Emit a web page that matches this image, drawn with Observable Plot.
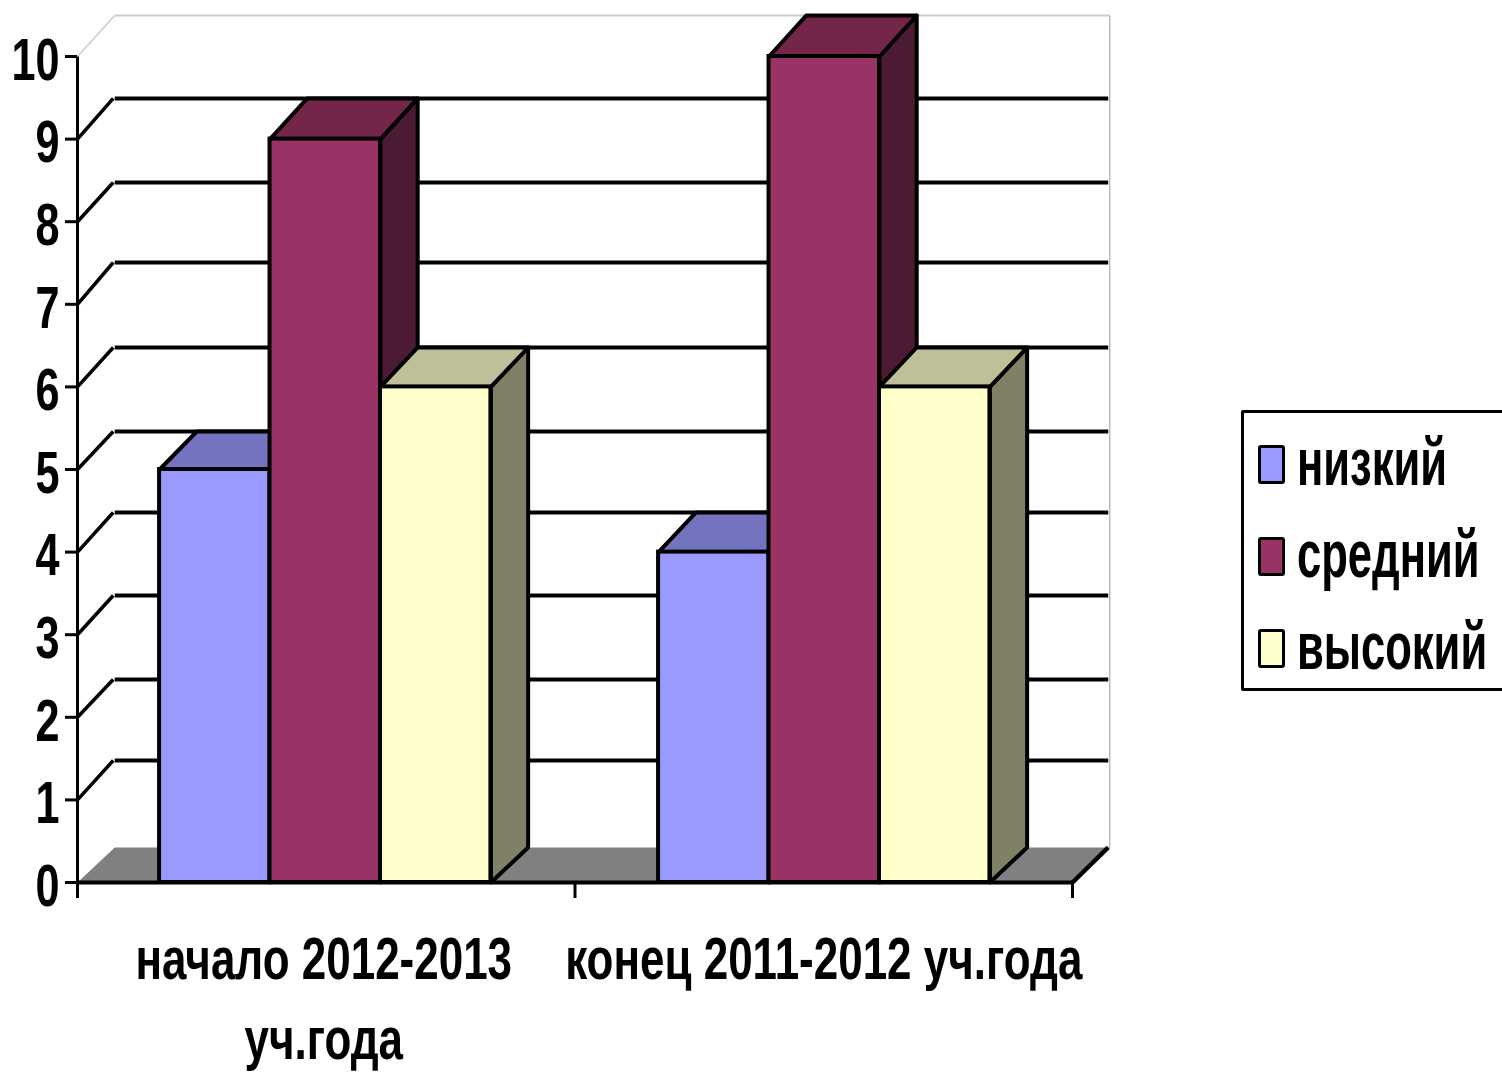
<!DOCTYPE html>
<html><head><meta charset="utf-8">
<script src="https://cdn.jsdelivr.net/npm/d3@7"></script>
<script src="https://cdn.jsdelivr.net/npm/@observablehq/plot@0.6"></script>
<style>
html,body{margin:0;padding:0;background:#fff;overflow:hidden}
#wrap{position:relative;width:1502px;height:1073px}
#legend{position:absolute;left:1241px;top:410px;width:263px;height:275px;border:3.5px solid #000;border-radius:2px;background:#fff}
.row{position:absolute;left:14px;display:flex;align-items:center;height:60px;font:bold 66px "Liberation Sans",sans-serif;color:#000;white-space:nowrap}
.sw{width:21px;height:33px;border:3px solid #000;border-radius:3px;margin-right:12px;flex:none}
.lab{display:inline-block;transform:translateY(-2px) scaleX(0.66);transform-origin:left center}
</style></head><body><div id="wrap"><div id="legend"></div></div>
<script>
const categories = ["начало 2012-2013\nуч.года", "конец 2011-2012 уч.года"];
const series = ["низкий", "средний", "высокий"];
const low = [5, 4];
const mid = [9, 10];
const high = [6, 6];
const frontColors = ["#9999FF", "#993366", "#FFFFCC"];
const topColors = ["#7373BF", "#732649", "#BFBF99"];
const sideColors = ["#4D4D80", "#4D1A33", "#808066"];
const ticks = [0,1,2,3,4,5,6,7,8,9,10];
const groupEdges = [0, 1, 2];
const labelCentres = [0.495, 1.5];
const barStart = [0.165, 1.168];
const barWidth = 0.222;
const depthX = 0.0748;
// where each value lands on the back wall, in value units (the perspective of the 3D frame)
const backPlane = [0.424, 1.477, 2.458, 3.475, 4.479, 5.46, 6.477, 7.506, 8.475, 9.492, 10.496];
const back = v => backPlane[v];
const font = '"Liberation Sans",sans-serif';

const values = [low, mid, high];
const bars = [];
categories.forEach((c, g) => series.forEach((s, i) => {
  const x0 = barStart[g] + i * barWidth;
  bars.push({id: `${g}-${i}`, i, g, x1: x0, x2: x0 + barWidth, v: values[i][g]});
}));

function poly(id, fill, pts){ return pts.map(([x,y]) => ({id, fill, x, y})); }
const floor = poly("floor", "#808080", [[0,0],[depthX,back(0)],[2+depthX,back(0)],[2,0]]);
const gridTicks = ticks.filter(t => t > 0 && t < 10);

const faceMark = pts => Plot.line(pts, {x:"x", y:"y", z:"id", fill:"fill", stroke:"#000", strokeWidth:4, curve:"linear-closed", strokeLinejoin:"round"});

const barMarks = bars.flatMap(b => {
  const bk = back(b.v);
  return [
    faceMark(poly(b.id+"s", sideColors[b.i], [[b.x2,0],[b.x2+depthX,back(0)],[b.x2+depthX,bk],[b.x2,b.v]])),
    faceMark(poly(b.id+"t", topColors[b.i], [[b.x1,b.v],[b.x1+depthX,bk],[b.x2+depthX,bk],[b.x2,b.v]])),
    Plot.rect([b], {x1:"x1", x2:"x2", y1:()=>0, y2:"v", fill:frontColors[b.i], stroke:"#000", strokeWidth:4})
  ];
});

const chart = Plot.plot({
  width:1502, height:1073,
  marginLeft:77, marginRight:430, marginTop:56, marginBottom:191,
  x:{domain:[0,2], axis:null},
  y:{domain:[0,10], axis:null},
  color:{type:"identity"},
  marks:[
    // wall outline
    Plot.link([0], {x1:()=>0, y1:()=>10, x2:()=>depthX, y2:()=>back(10), stroke:"#ccc", strokeWidth:1.5}),
    Plot.link([0], {x1:()=>depthX, y1:()=>back(10), x2:()=>2+depthX, y2:()=>back(10), stroke:"#ccc", strokeWidth:2}),
    Plot.link([0], {x1:()=>2+depthX, y1:()=>back(10), x2:()=>2+depthX, y2:()=>back(0), stroke:"#bbb", strokeWidth:1.5}),
    // floor
    Plot.line(floor, {x:"x", y:"y", z:"id", fill:"fill", curve:"linear-closed"}),
    Plot.link([0], {x1:()=>2, y1:()=>0, x2:()=>2+depthX*0.96, y2:()=>back(0), stroke:"#000", strokeWidth:4.5}),
    // grid lines on side and back walls
    Plot.link(gridTicks, {x1:()=>0, y1:d=>d, x2:()=>depthX*0.96, y2:d=>back(d), stroke:"#000", strokeWidth:3.5}),
    Plot.link(gridTicks, {x1:()=>depthX, y1:d=>back(d), x2:()=>2+depthX*0.96, y2:d=>back(d), stroke:"#000", strokeWidth:4}),
    ...barMarks,
    // axes
    Plot.link([0], {x1:()=>0, y1:()=>0, x2:()=>0, y2:()=>10, stroke:"#000", strokeWidth:3}),
    Plot.link([0], {x1:()=>0, y1:()=>0, x2:()=>2, y2:()=>0, stroke:"#000", strokeWidth:4}),
    Plot.axisY({ticks, tickSize:12, tickPadding:6, strokeWidth:3, fontSize:60, fontWeight:"bold", fontFamily:font, label:null, tickFormat:d=>d, color:"#000"}),
    Plot.axisX({ticks:groupEdges, tickSize:16, strokeWidth:3, tickFormat:()=>"", label:null, anchor:"bottom"}),
    Plot.text(categories, {x:(d,i)=>labelCentres[i], y:()=>0, text:d=>d, fontSize:60, fontWeight:"bold", fontFamily:font, dy:40, lineHeight:1.33, lineAnchor:"top", textAnchor:"middle", fill:"#000"})
  ]
});
document.getElementById("wrap").prepend(chart);

// the reference's lettering is a tall, narrow condensed bold
d3.select(chart).selectAll("text").attr("transform", function(){
  const t = this.getAttribute("transform") || "";
  const isTick = this.parentNode.getAttribute("aria-label") === "y-axis tick label";
  return (isTick ? "translate(0,4) " : "") + t + (isTick ? " scale(0.72,1)" : " scale(0.733,1)");
});

const legend = document.getElementById("legend");
const rowTops = [21, 113, 205];
series.forEach((s,i) => {
  const r = document.createElement("div");
  r.className = "row"; r.style.top = rowTops[i] + "px";
  const sw = document.createElement("span"); sw.className="sw"; sw.style.background = frontColors[i];
  const t = document.createElement("span"); t.className="lab"; t.textContent = s;
  r.append(sw,t); legend.append(r);
});
</script></body></html>
